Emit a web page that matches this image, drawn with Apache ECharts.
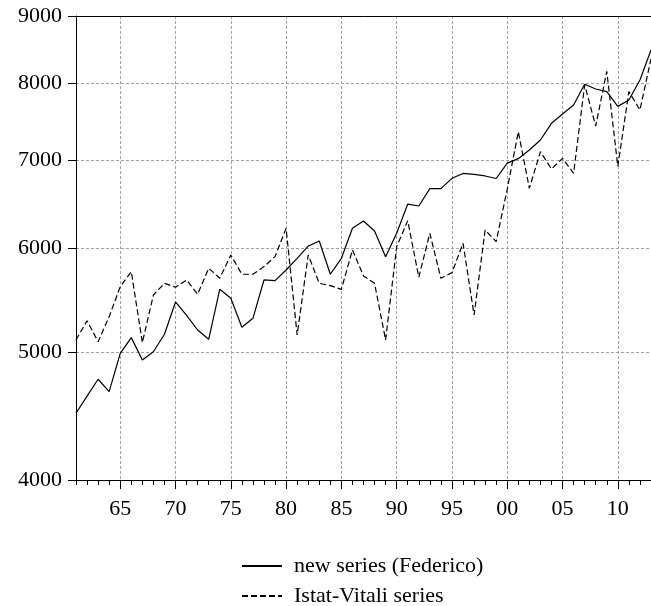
<!DOCTYPE html>
<html>
<head>
<meta charset="utf-8">
<script src="https://cdn.jsdelivr.net/npm/echarts@6/dist/echarts.min.js"></script>
<style>
  html, body { margin: 0; padding: 0; background: #fff; }
  #chart { width: 651px; height: 606px; }
</style>
</head>
<body>
<div id="chart"></div>
<script>
// Years 1861-1913
const years = [];
for (let y = 1861; y <= 1913; y++) years.push(y);

// New series (Federico)
const federico = [
  4495, 4631, 4770, 4668, 4991, 5130, 4934, 5005, 5160, 5460,
  5334, 5199, 5115, 5582, 5495, 5224, 5306, 5674, 5668, 5774,
  5893, 6020, 6074, 5731, 5893, 6210, 6290, 6181, 5910, 6156,
  6479, 6457, 6656, 6656, 6777, 6835, 6825, 6805, 6775, 6960,
  7014, 7121, 7246, 7461, 7583, 7704, 7988, 7922, 7885, 7685,
  7771, 8048, 8481
];

// Istat-Vitali series
const istatVitali = [
  5109, 5284, 5094, 5322, 5608, 5757, 5085, 5527, 5641, 5602,
  5674, 5534, 5791, 5691, 5927, 5731, 5731, 5808, 5910, 6210,
  5154, 5927, 5641, 5618, 5582, 5980, 5714, 5641, 5109, 6014,
  6294, 5701, 6156, 5691, 5747, 6050, 5337, 6192, 6067, 6650,
  7352, 6660, 7100, 6889, 7018, 6837, 7978, 7426, 8170, 6920,
  7885, 7637, 8350
];

// Y-axis tick values
const yTicks = [4000, 5000, 6000, 7000, 8000, 9000];

const FONT = 'Liberation Serif';
const gridLine = { show: true, lineStyle: { color: '#a0a0a0', type: [3, 2], width: 1 } };
const isMajor = (i, v) => Number(v) % 5 === 0;

function legendRow(name, top) {
  return {
    orient: 'vertical',
    left: 236,
    top: top,
    itemWidth: 40,
    itemHeight: 14,
    itemStyle: { opacity: 0 },
    textStyle: { fontFamily: FONT, fontSize: 22, color: '#000', padding: [0, 0, 0, 7] },
    data: [name]
  };
}

const chart = echarts.init(document.getElementById('chart'), null, { renderer: 'canvas' });
chart.setOption({
  animation: false,
  backgroundColor: '#fff',
  grid: { left: 76, right: 0, top: 16, bottom: 126, containLabel: false },
  legend: [
    legendRow('new series (Federico)', 550),
    legendRow('Istat-Vitali series', 580)
  ],
  xAxis: [
    {
      // labelled axis with long ticks and grid lines every five years
      type: 'category',
      data: years,
      boundaryGap: false,
      position: 'bottom',
      axisLine: { show: true, lineStyle: { color: '#000', width: 1 } },
      axisTick: { show: true, interval: isMajor, length: 9, lineStyle: { color: '#000' } },
      axisLabel: {
        interval: isMajor,
        formatter: v => String(v).slice(2),
        fontFamily: FONT, fontSize: 22, color: '#000', margin: 18
      },
      splitLine: Object.assign({ interval: isMajor }, gridLine)
    },
    {
      // yearly minor ticks
      type: 'category',
      data: years,
      boundaryGap: false,
      position: 'bottom',
      axisLine: { show: false },
      axisTick: { show: true, interval: 0, length: 5, lineStyle: { color: '#000' } },
      axisLabel: { show: false },
      splitLine: { show: false }
    },
    {
      // top frame line
      type: 'category',
      data: years,
      boundaryGap: false,
      position: 'top',
      axisLine: { show: true, lineStyle: { color: '#000', width: 1 } },
      axisTick: { show: false },
      axisLabel: { show: false },
      splitLine: { show: false }
    }
  ],
  yAxis: {
    type: 'log',
    logBase: 10,
    min: 4000,
    max: 9000,
    axisLine: { show: true, lineStyle: { color: '#000', width: 1 } },
    axisTick: { show: true, length: 8, customValues: yTicks, lineStyle: { color: '#000' } },
    axisLabel: {
      customValues: yTicks,
      formatter: v => String(Math.round(v)),
      fontFamily: FONT, fontSize: 22, color: '#000', margin: 14
    },
    splitLine: gridLine
  },
  series: [
    {
      name: 'new series (Federico)',
      type: 'line',
      data: federico,
      symbol: 'none',
      lineStyle: { color: '#000', width: 1.2, type: 'solid' },
      itemStyle: { color: '#000' }
    },
    {
      name: 'Istat-Vitali series',
      type: 'line',
      data: istatVitali,
      symbol: 'none',
      lineStyle: { color: '#000', width: 1.2, type: [6, 3] },
      itemStyle: { color: '#000' }
    }
  ]
});
</script>
</body>
</html>
